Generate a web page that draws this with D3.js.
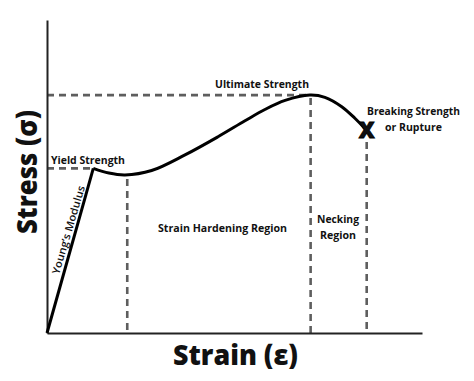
<!DOCTYPE html>
<html>
<head>
<meta charset="utf-8">
<script src="https://cdn.jsdelivr.net/npm/d3@7"></script>
<style>
  html, body { margin: 0; padding: 0; background: #fff; }
  svg { display: block; }
  text { font-family: "Open Sans", "Lato", sans-serif; font-weight: bold; fill: #111; }
</style>
</head>
<body>
<svg id="chart" width="474" height="381"></svg>
<script>
// ---- Data (arbitrary units: strain 0-100, stress 0-100) ----
const elasticStrain = [0, 12.35];
const elasticStress = [0, 52.6];
const curveStrain = [12.35, 16.5, 20.8, 27.9, 36.8, 45.6, 52.8, 58.1, 63.5, 70.1, 74.1, 78.6, 82.1, 85.1];
const curveStress = [52.6, 51.1, 50.5, 51.9, 56.9, 62.7, 67.8, 71.4, 74.3, 76.0, 75.3, 72.3, 68.6, 64.9];
const keyNames = ["yield", "hardeningStart", "ultimate", "rupture"];
const keyStrain = [12.35, 21.4, 70.3, 85.25];
const keyStress = [52.6, 50.5, 76.0, 61.0];
const axisTitles = ["Strain (\u03B5)", "Stress (\u03C3)"];
const pointLabels = ["Yield Strength", "Ultimate Strength", "Breaking Strength", "or Rupture"];
const regionLabels = ["Strain Hardening Region", "Necking", "Region", "Young\u2019s Modulus"];

const svg = d3.select("#chart");
const x = d3.scaleLinear().domain([0, 100]).range([47, 422]);
const y = d3.scaleLinear().domain([0, 100]).range([333, 20]);

// ---- Dashed guide lines ----
const dash = g => g.attr("stroke", "#5e5e5e").attr("stroke-width", 2.6)
  .attr("stroke-dasharray", "7,5").attr("fill", "none");
const guides = svg.append("g");
guides.append("line").call(dash)
  .attr("x1", x(0)).attr("x2", x(keyStrain[0])).attr("y1", y(keyStress[0])).attr("y2", y(keyStress[0]));
guides.append("line").call(dash)
  .attr("x1", x(keyStrain[1])).attr("x2", x(keyStrain[1])).attr("y1", y(keyStress[1]) + 4).attr("y2", y(0));
guides.append("line").call(dash)
  .attr("x1", x(0)).attr("x2", x(keyStrain[2])).attr("y1", y(keyStress[2])).attr("y2", y(keyStress[2]));
guides.append("line").call(dash)
  .attr("x1", x(keyStrain[2])).attr("x2", x(keyStrain[2])).attr("y1", y(keyStress[2]) + 3).attr("y2", y(0));
guides.append("line").call(dash)
  .attr("x1", x(keyStrain[3])).attr("x2", x(keyStrain[3])).attr("y1", y(keyStress[3])).attr("y2", y(0));

// ---- Axes ----
svg.append("g").attr("transform", `translate(0,${y(0)})`)
  .call(d3.axisBottom(x).tickValues([]).tickSizeOuter(0))
  .call(g => g.select(".domain").attr("stroke", "#222").attr("stroke-width", 2));
svg.append("g").attr("transform", `translate(${x(0)},0)`)
  .call(d3.axisLeft(y).tickValues([]).tickSizeOuter(0))
  .call(g => g.select(".domain").attr("stroke", "#222").attr("stroke-width", 2));

// ---- Stress-strain curve ----
const lineLin = d3.line().x(d => x(d[0])).y(d => y(d[1]));
const lineCurve = d3.line().x(d => x(d[0])).y(d => y(d[1])).curve(d3.curveCatmullRom.alpha(0.5));
svg.append("path").datum(elasticStrain.map((v, i) => [v, elasticStress[i]]))
  .attr("d", lineLin).attr("fill", "none").attr("stroke", "#000").attr("stroke-width", 3);
svg.append("path").datum(curveStrain.map((v, i) => [v, curveStress[i]]))
  .attr("d", lineCurve).attr("fill", "none").attr("stroke", "#000").attr("stroke-width", 3);

// rupture X mark
svg.append("text").attr("x", x(curveStrain[curveStrain.length - 1]) + 0.5).attr("y", y(curveStress[curveStress.length - 1]) + 8)
  .attr("text-anchor", "middle").style("font-size", "22px").style("font-weight", "900")
  .style("stroke", "#000").style("stroke-width", 0.8)
  .text("X");

// ---- Labels ----
function label(txt, cx, by, size, len, anchor) {
  return svg.append("text").attr("x", cx).attr("y", by)
    .attr("text-anchor", anchor || "middle").style("font-size", size + "px")
    .attr("textLength", len).attr("lengthAdjust", "spacingAndGlyphs").text(txt);
}
label(pointLabels[0], 51, 163.5, 10.5, 74, "start");
label(pointLabels[1], 262, 88, 10.5, 94);
label(pointLabels[2], 413.5, 115, 10.5, 93);
label(pointLabels[3], 413.5, 131, 10.5, 57);
label(regionLabels[0], 222.5, 232, 10.5, 129);
label(regionLabels[1], 338, 223, 10.5, 42);
label(regionLabels[2], 338, 239, 10.5, 36);

// Young's modulus along the elastic line
svg.append("text").attr("transform", "translate(72,231) rotate(-73.5)")
  .attr("text-anchor", "middle").style("font-size", "10.5px").style("font-weight", "600")
  .attr("textLength", 92).attr("lengthAdjust", "spacingAndGlyphs").text(regionLabels[3]);

// Axis titles
svg.append("text").attr("x", 235.5).attr("y", 365).attr("text-anchor", "middle")
  .style("font-size", "29px").style("font-weight", "800")
  .attr("textLength", 125).attr("lengthAdjust", "spacingAndGlyphs").text(axisTitles[0]);
svg.append("text").attr("transform", "translate(37,172) rotate(-90)").attr("text-anchor", "middle")
  .style("font-size", "29px").style("font-weight", "800")
  .attr("textLength", 124).attr("lengthAdjust", "spacingAndGlyphs").text(axisTitles[1]);
</script>
</body>
</html>
